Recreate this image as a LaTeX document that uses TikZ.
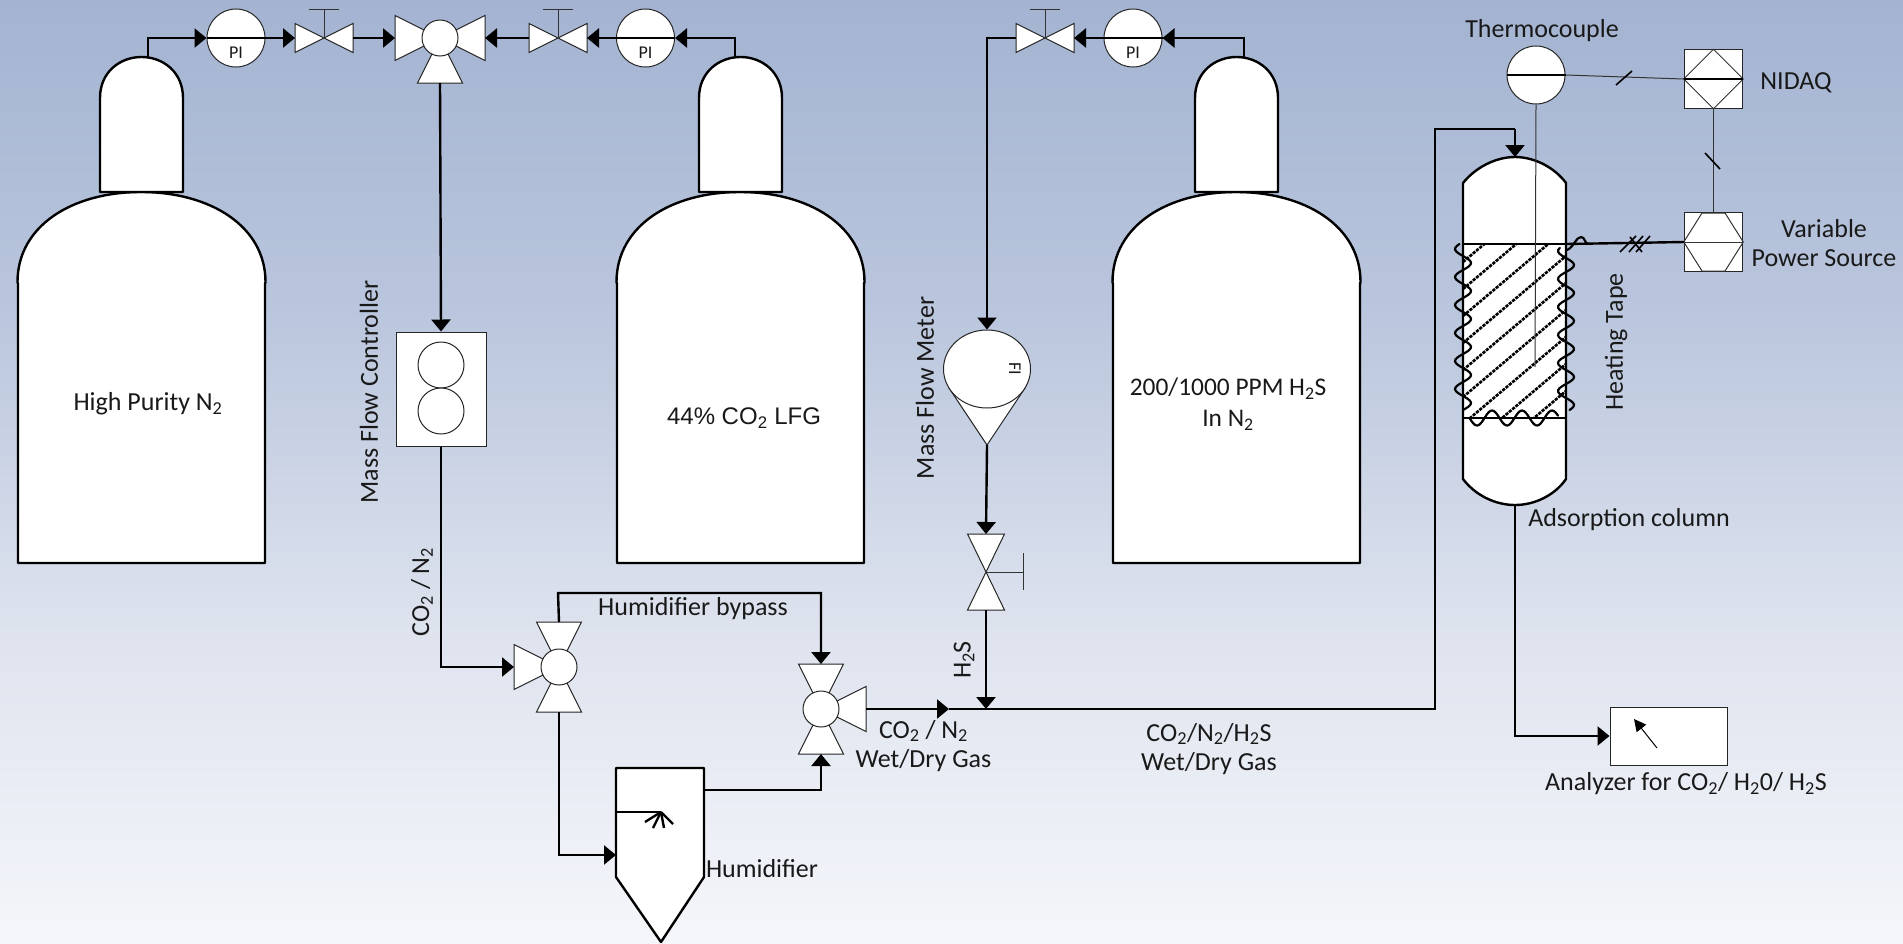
\documentclass[tikz,border=0pt]{standalone}
\usepackage{fontspec}
\setmainfont{Carlito}
\newfontfamily\arialfont{Liberation Sans}
\usetikzlibrary{arrows.meta,calc,shapes.geometric}
\definecolor{bgA}{HTML}{A3B3D1}
\definecolor{bgB}{HTML}{BAC6DD}
\definecolor{bgC}{HTML}{DEE3EE}
\definecolor{bgD}{HTML}{F4F6FA}
\pgfdeclareverticalshading{bgshade}{100bp}{color(0bp)=(bgD); color(25bp)=(bgD); color(41.5bp)=(bgC); color(58.5bp)=(bgB); color(75bp)=(bgA); color(100bp)=(bgA)}
\tikzset{
  x=1pt,y=-1pt,
  vessel/.style={draw=black,fill=white,line width=2.4pt,line join=round},
  inst/.style={draw=black!85,fill=white,line width=1pt,line join=miter},
  thin line/.style={draw=black!80,line width=1pt},
  pipe/.style={draw=black,line width=2.4pt},
  flow/.style={pipe,-{Triangle[length=12pt,width=19pt]}},
  dial/.style={inst,circle,inner sep=0pt,minimum size=58pt},
  wave/.style={draw=black,line width=2.2pt,line cap=round},
  txt/.style={inner sep=0pt,align=center,text=black!90,font=\fontsize{26}{29.5}\selectfont},
  hlabel/.style={txt,yshift=-2pt},
  pilabel/.style={inner sep=0pt,text=black!90,font=\fontsize{18}{20}\selectfont},
  tank/.pic={
    \path[vessel] (18,563) -- (18,284) -- (17.5,282) .. controls (17.5,226) and (72,192) .. (141,192)
      .. controls (210,192) and (265.5,226) .. (265.5,282) -- (265,284) -- (265,563) -- cycle;
    \path[vessel] (100,192) -- (100,98) .. controls (100,72) and (120,57) .. (141.5,57)
      .. controls (163,57) and (183,72) .. (183,98) -- (183,192) -- cycle;
    \coordinate (-a) at (148,57);
  },
  handvalve/.pic={
    \path[inst] (-29,-14.5) -- (29,14.5) -- (29,-14.5) -- (-29,14.5) -- cycle;
    \draw[thin line] (0,0) -- (0,-29);
    \draw[thin line] (-15,-29) -- (15,-29);
    \coordinate (-w) at (-29,0); \coordinate (-e) at (29,0);
  },
  handvalvev/.pic={
    \path[inst] (-18.5,-38) -- (18.5,38) -- (-18.5,38) -- (18.5,-38) -- cycle;
    \draw[thin line] (0,0) -- (37,0);
    \draw[thin line] (37,-19) -- (37,18);
    \coordinate (-n) at (0,-38); \coordinate (-s) at (0,38);
  },
  threeway/.pic={
    \foreach \r in {#1}{\path[inst,rotate=\r] (0,0) -- (45,-22.5) -- (45,22.5) -- cycle;}
    \path[inst] (0,0) circle (18);
    \coordinate (-n) at (0,-45); \coordinate (-s) at (0,45);
    \coordinate (-w) at (-45,0); \coordinate (-e) at (45,0);
  },
}
\begin{document}
\begin{tikzpicture}
\useasboundingbox (0,0) rectangle (1903,943);
\path[shading=bgshade] (0,0) rectangle (1903,943);

% tanks
\pic (t1) at (0,0) {tank};
\pic (t2) at (599,0) {tank};
\pic (t3) at (1095,0) {tank};
\coordinate (t1p) at (148,57);
\coordinate (t2p) at (735,57);
\coordinate (t3p) at (1244,57);

% top line instruments
\node[dial] (pi1) at (236,38) {};
\node[dial] (pi2) at (645.5,38) {};
\node[dial] (pi3) at (1133,38) {};
\foreach \p in {pi1,pi2,pi3}{\draw[pipe,line width=2pt] (\p.west) -- (\p.east);}
\pic (v1) at (324,38) {handvalve};
\pic (v2) at (558,38) {handvalve};
\pic (v3) at (1045,38) {handvalve};
\pic (w1) at (440,38) {threeway={0,180,270}};
\pic (w2) at (559,667) {threeway={90,180,270}};
\pic (w3) at (821,709) {threeway={0,90,270}};
\pic (v4) at (986,572) {handvalvev};

% mass flow controller
\node[inst,rectangle,minimum width=90pt,minimum height=114pt,inner sep=0pt] (mfc) at (441,389) {};
\node[inst,circle,minimum size=46pt,inner sep=0pt] (mfca) at (441,365) {};
\node[inst,circle,minimum size=46pt,inner sep=0pt] (mfcb) at (441,411) {};

% mass flow meter
\path[inst] (949,388) -- (987,445) -- (1025,388) -- cycle;
\node[inst,ellipse,minimum width=87pt,minimum height=78pt,inner sep=0pt] (fi) at (987,369) {};
\coordinate (fis) at (987,445);
\node[inner sep=0pt,rotate=-90,text=black!90,font=\fontsize{18}{20}\selectfont] (filab) at (1015,369) {FI};

% humidifier
\path[vessel] (616,768) -- (704,768) -- (704,877) -- (661,942) -- (616,877) -- cycle;
\coordinate (hum) at (616,812);
\coordinate (burst) at (661,812);
\draw[pipe] (hum) -- (burst);
\draw[pipe] (burst) -- (645,822);
\draw[pipe] (burst) -- (653,828);
\draw[pipe] (burst) -- (664,828);
\draw[pipe] (burst) -- (673,824);
\coordinate (humin) at (616,855);
\coordinate (humout) at (704,790);

% column
\path[vessel] (1463,183) .. controls (1475,168) and (1495,157) .. (1515,157)
  .. controls (1535,157) and (1555,168) .. (1566,183) -- (1566,479)
  .. controls (1555,495) and (1535,505) .. (1515,505)
  .. controls (1495,505) and (1475,495) .. (1463,479) -- cycle;
\coordinate (coltop) at (1515,157);
\coordinate (colbot) at (1515,505);
% heating tape band
\begin{scope}
\clip (1463,244) rectangle (1566,418);
\foreach \k in {-5,...,12}{
  \draw[black,line width=2.6pt,dash pattern=on 3.2pt off 1.1pt]
    (1463,262+27*\k) -- ++(110,-93);
}
\end{scope}
\draw[black,line width=2.4pt] (1463,244) rectangle (1566,418);
\draw[wave] plot[domain=244:410,samples=90,smooth] ({1463+8*cos(12.857*(\x-263))},\x);
\draw[wave] plot[domain=248:410,samples=90,smooth] ({1566+8*cos(12.857*(\x-265))},\x);
\draw[wave] plot[domain=1470:1558,samples=60,smooth] (\x,{418+7.5*cos(12*(\x-1477))});
\draw[wave] (1567,250) .. controls (1574,247) and (1576,237) .. (1581,237) .. controls (1585,237) and (1585,244) .. (1588,244);

% thermocouple, NIDAQ, power source
\node[dial] (tc) at (1536,75) {};
\draw[pipe,line width=1.4pt] (tc.west) -- (tc.east);
\node[inst,rectangle,minimum size=58.5pt,inner sep=0pt] (nid) at (1713.5,79) {};
\draw[thin line] (nid.north) -- (nid.east) -- (nid.south) -- (nid.west) -- cycle;
\draw[pipe,line width=1.6pt] (nid.west) -- (nid.east);
\node[inst,rectangle,minimum size=58.5pt,inner sep=0pt] (vps) at (1713.5,242) {};
\draw[thin line] (1702,213) -- (1725,213) -- (vps.east) -- (1725,271) -- (1702,271) -- (vps.west) -- cycle;
\draw[thin line] (vps.west) -- (vps.east);

% analyzer
\node[inst,rectangle,minimum width=117pt,minimum height=58pt,inner sep=0pt] (an) at (1668.5,736) {};
\coordinate (anneedle) at (1657,748);
\coordinate (antip) at (1634,719);
\draw[draw=black,line width=1pt,-{Triangle[length=12pt,width=12pt]}] (anneedle) -- (antip);

% connectors
\draw[flow] (t1p) |- (pi1.west);
\draw[flow] (pi1.east) -- (v1-w);
\draw[flow] (v1-e) -- (w1-w);
\draw[flow] (v2-w) -- (w1-e);
\draw[flow] (pi2.west) -- (v2-e);
\draw[flow] (t2p) |- (pi2.east);
\draw[flow] (t3p) |- (pi3.east);
\draw[flow] (pi3.west) -- (v3-e);
\draw[flow] (v3-w) -| (fi.north);
\draw[flow] (w1-s) -- (mfc.north);
\draw[flow] (mfc.south) |- (w2-w);
\draw[flow] (w2-n) -- (558,593) -| (w3-n);
\draw[flow] (w2-s) |- (humin);
\draw[flow] (humout) -| (w3-s);
\draw[flow] (fis) -- (v4-n);
\coordinate (junc) at (986,709);
\draw[flow] (v4-s) -- (junc);
\coordinate (mid) at (949,709);
\draw[flow] (w3-e) -- (mid);
\draw[pipe] (mid) -- (1435,709) -- (1435,129) -- (1515,129);
\coordinate (corner) at (1515,129);
\draw[flow] (corner) -- (coltop);
\draw[flow] (colbot) |- (an.west);

% signals
\draw[thin line] (tc.east) -- (nid.west);
\draw[thin line,line width=1.2pt] (nid.south) -- (vps.north);
\draw[thin line] (tc.south) -- (1535,367);
\coordinate (tapeend) at (1566,244);
\draw[pipe] (vps.west) -- (tapeend);
\draw[black,line width=1.6pt] (1616,85) -- (1632,71);
\draw[black,line width=1.6pt] (1705,153) -- (1720,169);
\draw[black,line width=1.6pt] (1620,252) -- (1636,236);
\draw[black,line width=1.6pt] (1629,252) -- (1643,236);
\draw[black,line width=1.6pt] (1636,252) -- (1650,236);
\draw[black,line width=1.6pt] (1630,237) -- (1642,252);

% labels
\node[pilabel] (lpi1) at (236,53) {PI};
\node[pilabel] (lpi2) at (645.5,53) {PI};
\node[pilabel] (lpi3) at (1133,53) {PI};
\node[hlabel] (l1) at (148,402) {High Purity N\textsubscript{2}};
\node[hlabel,font=\arialfont\fontsize{24}{28}\selectfont] (l2) at (744,416) {44\% CO\textsubscript{2} LFG};
\node[hlabel,font=\fontsize{25.4}{31}\selectfont] (l3) at (1228,402) {200/1000 PPM H\textsubscript{2}S\\In N\textsubscript{2}};
\node[txt,rotate=90] (l4) at (369,392) {Mass Flow Controller};
\node[txt,rotate=90] (l5) at (422,592) {CO\textsubscript{2} / N\textsubscript{2}};
\node[hlabel] (l6) at (693,607) {Humidifier bypass};
\node[hlabel] (l7) at (762,867) {Humidifier};
\node[hlabel] (l8) at (923.5,744) {CO\textsubscript{2} / N\textsubscript{2}\\Wet/Dry Gas};
\node[txt,rotate=90] (l9) at (925,388) {Mass Flow Meter};
\node[txt,rotate=90] (l10) at (964,660) {H\textsubscript{2}S};
\node[hlabel] (l11) at (1209,747) {CO\textsubscript{2}/N\textsubscript{2}/H\textsubscript{2}S\\Wet/Dry Gas};
\node[hlabel] (l12) at (1629,518) {Adsorption column};
\node[hlabel] (l13) at (1686,782) {Analyzer for CO\textsubscript{2}/ H\textsubscript{2}0/ H\textsubscript{2}S};
\node[txt,rotate=90] (l14) at (1616,342) {Heating Tape};
\node[hlabel] (l15) at (1542,29) {Thermocouple};
\node[hlabel] (l16) at (1796,81) {NIDAQ};
\node[hlabel] (l17) at (1824,241) {Variable\\Power Source};
\end{tikzpicture}
\end{document}
